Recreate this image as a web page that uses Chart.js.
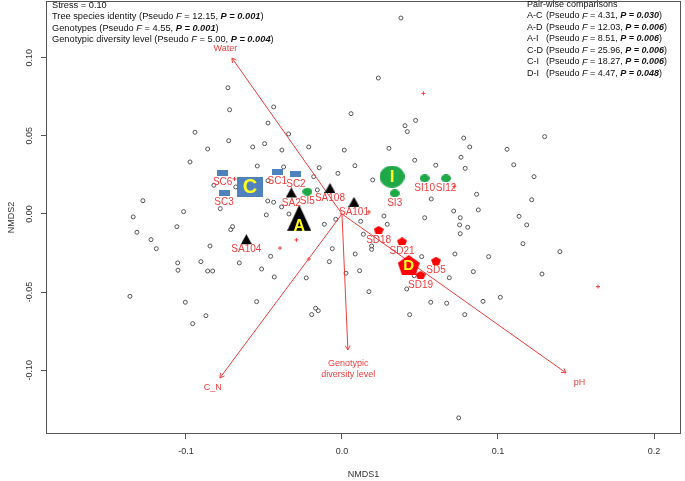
<!DOCTYPE html>
<html>
<head>
<meta charset="utf-8">
<script src="https://cdn.jsdelivr.net/npm/chart.js@4.4.1/dist/chart.umd.min.js"></script>
<style>
  html, body { margin: 0; padding: 0; background: #fff; }
  #wrap { width: 685px; height: 481px; }
</style>
</head>
<body>
<div id="wrap"><canvas id="nmds"></canvas></div>
<script>
// site scores (open grey circles)
const siteX = [0.0378, -0.0731, -0.0438, -0.0720, 0.0058, -0.0474, -0.0942, -0.0342, -0.0726, -0.0496,
  -0.0572, -0.0385, -0.0213, 0.0015, -0.0861, -0.0974, -0.0543, -0.0374, -0.0146, 0.0083,
  -0.0026, -0.0181, -0.0821, -0.0681, -0.0474, -0.0158, -0.0476, -0.0438, -0.0387, -0.0340,
  -0.0485, -0.0780, -0.1276, -0.1015, -0.1338, -0.1058, -0.1314, -0.1224, -0.1190, -0.0846,
  -0.0713, -0.0701, -0.0113, -0.0040, 0.0120, 0.0137, -0.0062, -0.1053, -0.1051, -0.0904,
  -0.0861, -0.0829, -0.0658, -0.0515, -0.0457, -0.0434, -0.0229, -0.0081, 0.0085, 0.0113,
  0.0026, -0.1359, -0.1004, -0.0547, -0.0872, -0.0957, -0.0194, -0.0169, -0.0152, 0.0233,
  0.0472, 0.0404, 0.0419, 0.0780, 0.0819, 0.1299, 0.1058, 0.0301, 0.0763, 0.0466,
  0.0601, 0.0790, 0.1101, 0.1231, 0.0197, 0.0863, 0.0572, 0.1216, 0.0874, 0.0716,
  0.0269, 0.0530, 0.0758, 0.1135, 0.0290, 0.0754, 0.0806, 0.1184, 0.0758, 0.1160,
  0.0190, 0.0190, 0.0511, 0.0724, 0.0940, 0.1397, 0.0842, 0.0688, 0.0463, 0.1282,
  0.0173, 0.0415, 0.0569, 0.0671, 0.0904, 0.1015, 0.0434, 0.0787, 0.0748];
const siteY = [0.1254, 0.0808, 0.0685, 0.0667, 0.0642, 0.0582, 0.0523, 0.0512, 0.0469, 0.0450,
  0.0429, 0.0409, 0.0429, 0.0409, 0.0416, 0.0333, 0.0307, 0.0301, 0.0296, 0.0309,
  0.0260, 0.0239, 0.0184, 0.0173, 0.0213, 0.0154, 0.0083, 0.0075, 0.0045, 0.0000,
  -0.0006, 0.0034, 0.0085, 0.0015, -0.0019, -0.0081, -0.0117, -0.0164, -0.0222, -0.0205,
  -0.0100, -0.0081, -0.0066, -0.0034, -0.0047, -0.0130, -0.0222, -0.0313, -0.0360, -0.0305,
  -0.0365, -0.0365, -0.0313, -0.0352, -0.0271, -0.0403, -0.0409, -0.0305, -0.0256, -0.0363,
  -0.0379, -0.0527, -0.0565, -0.0561, -0.0651, -0.0702, -0.0644, -0.0603, -0.0619, 0.0870,
  0.0599, 0.0565, 0.0527, 0.0486, 0.0429, 0.0495, 0.0414, 0.0420, 0.0363, 0.0344,
  0.0312, 0.0292, 0.0315, 0.0239, 0.0218, 0.0126, 0.0096, 0.0091, 0.0026, 0.0019,
  -0.0013, -0.0024, -0.0024, -0.0015, -0.0066, -0.0070, -0.0085, -0.0070, -0.0126, -0.0190,
  -0.0205, -0.0226, -0.0273, -0.0256, -0.0273, -0.0241, -0.0369, -0.0408, -0.0395, -0.0384,
  -0.0497, -0.0480, -0.0565, -0.0571, -0.0559, -0.0533, -0.0644, -0.0644, -0.1305];

// species scores (small red crosses)
const sppX = [0.0522, 0.1641, -0.0689, -0.0292, -0.0397, -0.0212, 0.0173, 0.0720];
const sppY = [0.0772, -0.0465, 0.0224, -0.0166, -0.0218, -0.0288, 0.0013, 0.0175];

// fitted environmental vectors
const vecNames = ['Water', 'C_N', 'Genotypic\ndiversity level', 'pH'];
const vecX = [-0.0705, -0.0782, 0.0038, 0.1436];
const vecY = [0.0998, -0.1049, -0.0870, -0.1017];

// genotype centroids (second letter = tree species)
const genoNames = ['SC6', 'SC3', 'SC1', 'SC2', 'SA2', 'SA108', 'SA101', 'SA104',
  'SI5', 'SI3', 'SI10', 'SI12', 'SD18', 'SD21', 'SD5', 'SD19'];
const genoX = [-0.0765, -0.0756, -0.0415, -0.0295, -0.0325, -0.0077, 0.0077, -0.0613,
  -0.0222, 0.0338, 0.0530, 0.0667, 0.0235, 0.0385, 0.0603, 0.0504];
const genoY = [0.0264, 0.0136, 0.0271, 0.0254, 0.0128, 0.0157, 0.0068, -0.0171,
  0.0143, 0.0132, 0.0228, 0.0228, -0.0102, -0.0175, -0.0299, -0.0390];

// tree species centroids
const treeNames = ['C', 'A', 'I', 'D'];
const treeX = [-0.0590, -0.0274, 0.0321, 0.0428];
const treeY = [0.0173, -0.0053, 0.0239, -0.0327];

// PERMANOVA results
const stress = 0.10;
const termNames = ['Tree species identity', 'Genotypes', 'Genotypic diversity level'];
const termF = [12.15, 4.55, 5.00];
const termP = [0.001, 0.001, 0.004];
const pairNames = ['A-C', 'A-D', 'A-I', 'C-D', 'C-I', 'D-I'];
const pairF = [4.31, 12.03, 8.51, 25.96, 18.27, 4.47];
const pairP = [0.030, 0.006, 0.006, 0.006, 0.006, 0.048];

// axes
const xTicks = [-0.1, 0.0, 0.1, 0.2];
const yTicks = [-0.10, -0.05, 0.00, 0.05, 0.10];

const FONT = '"Liberation Sans", Arial, sans-serif';
const RED = '#f03c3c';
const colors = { C: '#4f81bd', A: '#000000', I: '#1fa848', D: '#ff0000' };
const shapes = { C: 'rect', A: 'tri', I: 'oval', D: 'pent' };

function glyph(shape, w, h, fill) {
  const c = document.createElement('canvas');
  c.width = w;
  c.height = shape === 'tri' ? Math.round(h * 4 / 3) : h; // centroid of triangle at centre
  const g = c.getContext('2d');
  g.fillStyle = fill;
  g.beginPath();
  if (shape === 'rect') g.rect(0, 0, w, h);
  else if (shape === 'oval') g.ellipse(w / 2, h / 2, w / 2, h / 2, 0, 0, Math.PI * 2);
  else if (shape === 'tri') { g.moveTo(w / 2, 0); g.lineTo(w, h); g.lineTo(0, h); }
  else {
    for (let i = 0; i < 5; i++) {
      const a = -Math.PI / 2 + i * 2 * Math.PI / 5;
      const px = w / 2 + Math.cos(a) * w / 1.902;
      const py = h * 0.553 + Math.sin(a) * h / 1.809;
      i ? g.lineTo(px, py) : g.moveTo(px, py);
    }
  }
  g.closePath();
  g.fill();
  return c;
}

const bigSize = { C: [26, 20], A: [24, 26], I: [25, 22], D: [22, 20] };
const smallSize = { C: [11, 6], A: [11, 10], I: [10, 8], D: [10, 8] };
const bigGlyph = {}, smallGlyph = {};
treeNames.forEach(k => {
  bigGlyph[k] = glyph(shapes[k], bigSize[k][0], bigSize[k][1], colors[k]);
  smallGlyph[k] = glyph(shapes[k], smallSize[k][0], smallSize[k][1], colors[k]);
});

const zip = (xs, ys) => xs.map((x, i) => ({ x, y: ys[i] }));

const datasets = [
  {
    data: zip(siteX, siteY), order: 5,
    pointStyle: 'circle', pointRadius: 2, borderWidth: 1,
    borderColor: '#555', backgroundColor: 'rgba(0,0,0,0)'
  },
  {
    data: zip(sppX, sppY), order: 4,
    pointStyle: 'cross', pointRadius: 2, borderWidth: 1, borderColor: RED
  },
  ...vecNames.map((n, i) => ({
    type: 'line', data: [{ x: 0, y: 0 }, { x: vecX[i], y: vecY[i] }], order: 3,
    borderColor: RED, borderWidth: 1, pointRadius: 0, fill: false
  })),
  {
    data: zip(genoX, genoY), order: 2, pointRadius: 5,
    pointStyle: ctx => smallGlyph[genoNames[ctx.dataIndex][1]]
  },
  {
    data: zip(treeX, treeY), order: 1, pointRadius: 10,
    pointStyle: ctx => bigGlyph[treeNames[ctx.dataIndex]]
  }
];

function drawRich(ctx, x, y, segs, size) {
  let cx = x;
  segs.forEach(([t, st]) => {
    ctx.font = (st.includes('i') ? 'italic ' : '') + (st.includes('b') ? 'bold ' : '') + size + 'px ' + FONT;
    ctx.fillText(t, cx, y);
    cx += ctx.measureText(t).width;
  });
}
const statSegs = (f, p) => [['(Pseudo ', ''], ['F', 'i'], [' = ' + f.toFixed(2) + ', ', ''], ['P = ' + p.toFixed(3), 'bi'], [')', '']];

const decorations = {
  id: 'decorations',
  beforeDatasetsDraw(chart) {
    const { ctx, chartArea: a } = chart;
    ctx.save();
    ctx.strokeStyle = '#555';
    ctx.lineWidth = 1;
    ctx.strokeRect(Math.round(a.left) + 0.5, Math.round(a.top) + 0.5, Math.round(a.width) - 1, Math.round(a.height) - 1);
    ctx.restore();
  },
  afterDatasetsDraw(chart) {
    const { ctx, scales: { x, y } } = chart;
    ctx.save();
    ctx.textAlign = 'center';
    ctx.textBaseline = 'middle';

    // arrow heads and vector labels
    ctx.strokeStyle = RED;
    ctx.fillStyle = RED;
    ctx.lineWidth = 1;
    ctx.font = '9px ' + FONT;
    vecNames.forEach((n, i) => {
      const x0 = x.getPixelForValue(0), y0 = y.getPixelForValue(0);
      const x1 = x.getPixelForValue(vecX[i]), y1 = y.getPixelForValue(vecY[i]);
      const ang = Math.atan2(y1 - y0, x1 - x0);
      ctx.beginPath();
      [-1, 1].forEach(s => {
        ctx.moveTo(x1, y1);
        ctx.lineTo(x1 - 5 * Math.cos(ang + s * Math.PI / 6), y1 - 5 * Math.sin(ang + s * Math.PI / 6));
      });
      ctx.stroke();
      const lx = x.getPixelForValue(vecX[i] * 1.06), ly = y.getPixelForValue(vecY[i] * 1.06);
      const lines = n.split('\n');
      lines.forEach((t, k) => ctx.fillText(t, lx, ly + k * 11 + (lines.length > 1 ? 5 : 0)));
    });

    // genotype labels
    ctx.font = '10px ' + FONT;
    genoNames.forEach((n, i) => {
      const dy = n[1] === 'A' ? 9 : 10;
      ctx.fillText(n, x.getPixelForValue(genoX[i]), y.getPixelForValue(genoY[i]) + dy);
    });

    // species letters
    ctx.fillStyle = '#ffff22';
    const letterSize = { C: 20, A: 16, I: 17, D: 15 };
    treeNames.forEach((n, i) => {
      ctx.font = 'bold ' + letterSize[n] + 'px ' + FONT;
      const dy = n === 'A' ? 4 : 1;
      ctx.fillText(n, x.getPixelForValue(treeX[i]), y.getPixelForValue(treeY[i]) + dy);
    });

    // y tick labels (rotated like base R)
    ctx.fillStyle = '#333';
    ctx.font = '9px ' + FONT;
    yTicks.forEach(v => {
      ctx.save();
      ctx.translate(30, y.getPixelForValue(v));
      ctx.rotate(-Math.PI / 2);
      ctx.fillText(v.toFixed(2), 0, 0);
      ctx.restore();
    });

    // PERMANOVA text
    ctx.textAlign = 'left';
    ctx.fillStyle = '#111';
    ctx.font = '9.25px ' + FONT;
    ctx.fillText('Stress = ' + stress.toFixed(2), 52, 5);
    termNames.forEach((n, i) => {
      drawRich(ctx, 52, 16.5 + i * 11.5, [[n + ' ', '']].concat(statSegs(termF[i], termP[i])), 9.25);
    });
    ctx.font = '9px ' + FONT;
    ctx.fillText('Pair-wise comparisons', 527, 4.5);
    pairNames.forEach((n, i) => {
      const yy = 16 + i * 11.5;
      ctx.font = '9px ' + FONT;
      ctx.fillText(n, 527, yy);
      drawRich(ctx, 546, yy, statSegs(pairF[i], pairP[i]), 9);
    });
    ctx.restore();
  }
};

new Chart(document.getElementById('nmds'), {
  type: 'scatter',
  data: { datasets },
  options: {
    responsive: true,
    maintainAspectRatio: false,
    animation: false,
    layout: { autoPadding: false, padding: { top: 1, right: 4, left: 0, bottom: 0 } },
    plugins: { legend: { display: false }, tooltip: { enabled: false } },
    scales: {
      x: {
        type: 'linear', min: -0.1897, max: 0.2173,
        afterBuildTicks: s => { s.ticks = xTicks.map(v => ({ value: v })); },
        afterFit: s => { s.height = 47; },
        ticks: { color: '#333', padding: 7, font: { size: 9, family: FONT }, callback: v => v.toFixed(1), maxRotation: 0 },
        grid: { drawOnChartArea: false, tickLength: 5, color: '#555' },
        border: { display: false },
        title: { display: true, text: 'NMDS1', color: '#333', font: { size: 9, family: FONT }, padding: { top: 0, bottom: 1 } }
      },
      y: {
        type: 'linear', min: -0.1408, max: 0.1363,
        afterBuildTicks: s => { s.ticks = yTicks.map(v => ({ value: v })); },
        afterFit: s => { s.width = 46; },
        ticks: { display: false },
        grid: { drawOnChartArea: false, tickLength: 5, color: '#555' },
        border: { display: false },
        title: { display: true, text: 'NMDS2', color: '#333', font: { size: 9, family: FONT }, padding: { top: 6, bottom: 0 } }
      }
    }
  },
  plugins: [decorations]
});
</script>
</body>
</html>
